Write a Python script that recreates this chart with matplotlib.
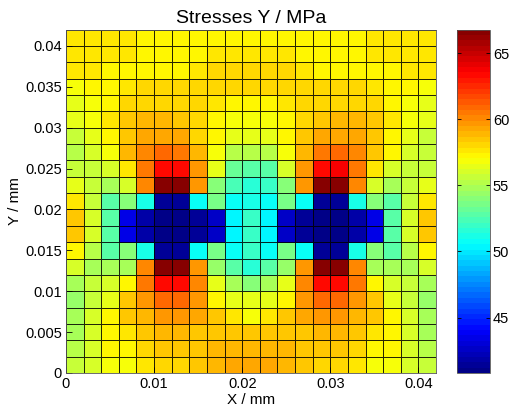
import numpy as np
import matplotlib
matplotlib.use("Agg")
import matplotlib.pyplot as plt
from matplotlib.colors import ListedColormap

plt.rcParams['font.family'] = ['Liberation Sans', 'DejaVu Sans']

# Node coordinates of the mesh
x_edges = np.linspace(0.0, 0.042, 22)
y_edges = np.linspace(0.0, 0.042, 22)

# Element stresses in MPa, listed from the top row (largest Y) downwards
stress_rows = [
    [57.6, 57.5, 57.5, 57.5, 57.4, 57.4, 57.4, 57.4, 57.4, 57.4, 57.4, 57.4, 57.4, 57.4, 57.4, 57.4, 57.4, 57.5, 57.5, 57.5, 57.6],
    [57.6, 57.5, 57.5, 57.5, 57.4, 57.4, 57.4, 57.4, 57.5, 57.5, 57.5, 57.5, 57.5, 57.4, 57.4, 57.4, 57.4, 57.5, 57.5, 57.5, 57.6],
    [57.8, 57.5, 57.4, 57.4, 57.4, 57.4, 57.4, 57.5, 58.1, 58.1, 58.0, 58.1, 58.1, 57.5, 57.4, 57.4, 57.4, 57.4, 57.4, 57.5, 57.8],
    [57.0, 57.1, 57.3, 57.5, 58.0, 58.0, 58.0, 58.0, 58.0, 58.1, 58.2, 58.1, 58.0, 58.0, 58.0, 58.0, 58.0, 57.5, 57.3, 57.1, 57.0],
    [56.5, 57.0, 57.4, 58.0, 58.0, 58.0, 58.0, 58.0, 57.5, 57.2, 57.3, 57.2, 57.5, 58.0, 58.0, 58.0, 58.0, 58.0, 57.4, 57.0, 56.6],
    [56.3, 57.0, 57.6, 58.4, 58.7, 58.7, 58.5, 58.0, 57.2, 57.0, 56.9, 57.0, 57.2, 58.0, 58.5, 58.7, 58.7, 58.4, 57.6, 57.0, 56.4],
    [55.5, 56.5, 57.4, 58.5, 59.3, 59.3, 59.3, 58.0, 57.1, 56.6, 56.6, 56.6, 57.2, 58.3, 59.2, 59.4, 59.2, 58.5, 57.4, 56.5, 55.5],
    [55.3, 56.0, 57.0, 58.7, 60.0, 61.0, 60.4, 58.8, 57.0, 55.3, 55.3, 55.3, 57.0, 58.9, 60.4, 61.0, 60.1, 58.6, 57.1, 56.2, 55.5],
    [55.7, 55.8, 56.2, 57.5, 60.7, 63.5, 63.2, 59.5, 56.5, 53.0, 52.6, 52.8, 56.2, 59.5, 63.3, 63.7, 60.4, 57.5, 56.2, 55.8, 55.8],
    [56.5, 55.5, 55.0, 56.2, 60.0, 66.5, 66.5, 59.5, 54.0, 52.2, 51.5, 52.0, 54.0, 59.5, 66.5, 66.5, 60.0, 56.2, 55.0, 55.5, 56.5],
    [57.8, 55.5, 52.8, 54.2, 51.0, 41.5, 41.5, 50.6, 53.5, 50.8, 51.3, 50.6, 53.7, 50.6, 41.5, 41.5, 51.0, 54.2, 52.8, 55.5, 57.5],
    [58.3, 56.2, 52.6, 43.5, 42.0, 41.2, 41.2, 41.5, 42.8, 50.3, 51.8, 50.3, 42.8, 41.5, 41.2, 41.2, 42.0, 43.5, 52.6, 56.2, 58.3],
    [58.3, 56.2, 52.6, 43.5, 42.0, 41.2, 41.2, 41.5, 42.8, 50.5, 51.8, 50.5, 42.8, 41.5, 41.2, 41.2, 42.0, 43.5, 52.6, 56.2, 58.3],
    [57.1, 55.2, 52.8, 54.2, 51.0, 41.5, 41.5, 50.6, 53.6, 50.8, 51.8, 50.8, 53.6, 50.6, 41.5, 41.5, 51.0, 54.2, 52.8, 55.2, 57.1],
    [56.0, 55.0, 54.7, 55.0, 60.0, 66.5, 66.5, 59.5, 54.3, 52.6, 51.6, 52.6, 54.3, 59.5, 66.5, 66.5, 60.0, 55.0, 54.7, 55.0, 56.0],
    [54.8, 55.5, 56.0, 57.2, 60.7, 63.5, 63.3, 60.0, 56.4, 55.0, 53.8, 55.0, 56.4, 60.0, 63.5, 63.3, 60.7, 57.2, 56.0, 55.5, 54.8],
    [54.3, 55.7, 56.4, 58.3, 59.5, 61.0, 61.0, 59.5, 57.3, 56.5, 56.5, 56.5, 57.3, 59.5, 61.0, 61.0, 59.5, 58.3, 56.4, 55.7, 54.3],
    [54.7, 55.9, 57.1, 58.3, 58.9, 59.6, 59.6, 59.2, 58.3, 57.8, 57.0, 57.8, 58.3, 59.2, 59.6, 59.6, 58.9, 58.3, 57.1, 55.9, 54.7],
    [55.0, 56.0, 57.1, 57.6, 58.5, 58.8, 58.8, 58.6, 58.5, 58.6, 58.6, 58.6, 58.5, 58.6, 58.8, 58.8, 58.5, 57.6, 57.1, 56.0, 55.0],
    [55.3, 56.2, 57.1, 57.3, 58.1, 58.3, 58.3, 58.5, 58.8, 58.8, 58.9, 58.8, 58.8, 58.5, 58.3, 58.3, 58.1, 57.3, 57.1, 56.2, 55.3],
    [55.5, 56.0, 56.9, 57.0, 57.8, 58.1, 58.1, 58.3, 58.8, 59.1, 59.2, 59.1, 58.8, 58.3, 58.1, 58.1, 57.8, 57.0, 56.9, 56.0, 55.5],
]

x_ticks = [0, 0.01, 0.02, 0.03, 0.04]
x_ticklabels = ["0", "0.01", "0.02", "0.03", "0.04"]
y_ticks = [0, 0.005, 0.01, 0.015, 0.02, 0.025, 0.03, 0.035, 0.04]
y_ticklabels = ["0", "0.005", "0.01", "0.015", "0.02", "0.025", "0.03", "0.035", "0.04"]
cbar_ticks = [45, 50, 55, 60, 65]
color_limits = (40.8, 66.8)

stress = np.flipud(np.array(stress_rows))


def classic_jet(n=64):
    """Piecewise-linear 'jet' in the classic 64-entry form."""
    f = (np.arange(n) + 0.5) / n
    r = np.clip(np.minimum(4 * f - 1.5, -4 * f + 4.5), 0, 1)
    g = np.clip(np.minimum(4 * f - 0.5, -4 * f + 3.5), 0, 1)
    b = np.clip(np.minimum(4 * f + 0.5, -4 * f + 2.5), 0, 1)
    return ListedColormap(np.column_stack([r, g, b]), name='classic_jet')


fig = plt.figure(figsize=(5.09, 4.12), dpi=100)
ax = fig.add_axes([66 / 509, 1 - 373 / 412, 370 / 509, 343.5 / 412])
cax = fig.add_axes([457 / 509, 1 - 373 / 412, 33 / 509, 343.5 / 412])

mesh = ax.pcolormesh(x_edges, y_edges, stress, cmap=classic_jet(64),
                     vmin=color_limits[0], vmax=color_limits[1],
                     edgecolors=(0, 0, 0, 0.85), linewidth=0.7, shading='flat')

ax.set_xlim(x_edges[0], x_edges[-1])
ax.set_ylim(y_edges[0], y_edges[-1])
ax.set_xticks(x_ticks)
ax.set_xticklabels(x_ticklabels)
ax.set_yticks(y_ticks)
ax.set_yticklabels(y_ticklabels)
ax.tick_params(direction='in', length=4, width=0.6, labelsize=10.5, pad=3)
for s in ax.spines.values():
    s.set_linewidth(0.6)
    s.set_color('#555555')

ax.set_title("Stresses Y / MPa", fontsize=14, pad=5)
ax.set_xlabel("X / mm", fontsize=11, labelpad=1)
ax.set_ylabel("Y / mm", fontsize=11, labelpad=2)

cb = fig.colorbar(mesh, cax=cax, ticks=cbar_ticks)
cb.outline.set_linewidth(0.6)
cb.outline.set_edgecolor('#555555')
cax.tick_params(direction='in', length=3, width=0.6, labelsize=10.5, pad=2,
                left=True, right=True)

fig.savefig("out.png", dpi=100)
